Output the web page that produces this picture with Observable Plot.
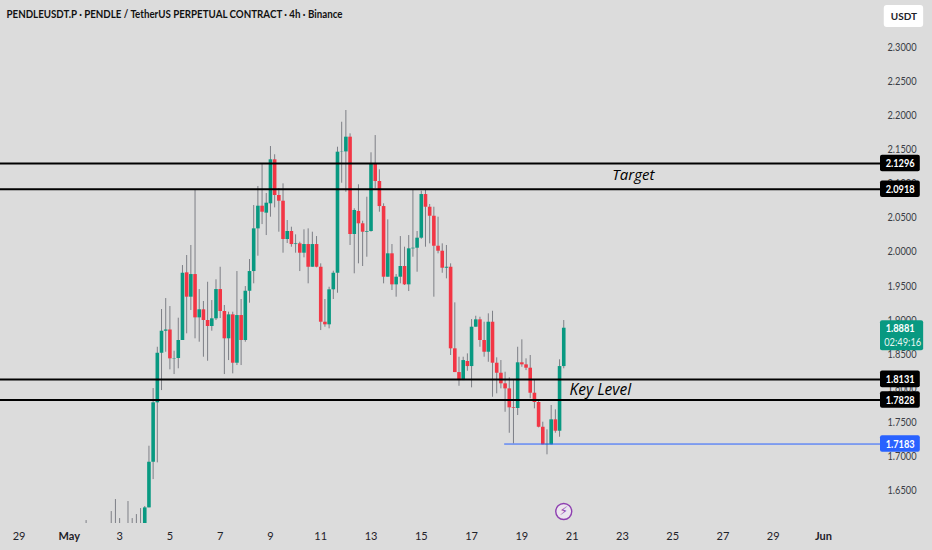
<!DOCTYPE html>
<html>
<head>
<meta charset="utf-8">
<script src="https://cdn.jsdelivr.net/npm/d3@7"></script>
<script src="https://cdn.jsdelivr.net/npm/@observablehq/plot@0.6"></script>
<style>
html,body{margin:0;padding:0;background:#dcdcdc;overflow:hidden}
svg{display:block}
</style>
</head>
<body>
<div id="chart"></div>
<script>
const title = "PENDLEUSDT.P · PENDLE / TetherUS PERPETUAL CONTRACT · 4h · Binance";
const opens = [1.585,1.584,1.586,1.585,1.584,1.585,1.586,1.588,1.587,1.585,1.586,1.587,1.588,1.590,
1.600,1.6247,1.6916,1.7787,1.8514,1.8837,1.8855,1.8432,1.8437,1.8701,1.9693,1.9336,1.9668,1.9033,1.9151,1.8994,
1.8906,1.9019,1.9448,1.9126,1.8726,1.9077,1.8368,1.9067,1.8701,1.9423,1.9712,2.0338,2.0670,2.0568,2.0705,2.1350,
2.0827,2.0743,2.0182,2.0299,2.0108,2.0118,1.9981,2.0108,1.9775,2.0108,1.9775,1.8969,1.8931,1.9444,1.9687,2.1462,
2.1466,2.1682,2.0255,2.0593,2.0412,2.0289,2.0299,2.1291,2.1032,2.0665,1.9629,1.9972,1.9517,1.9629,1.9786,1.9517,
2.0045,2.0054,2.0201,2.0841,2.0655,2.0523,2.0083,2.0010,1.9761,1.9775,1.8579,1.8231,1.8114,1.8393,1.8319,1.8896,
1.9004,1.8701,1.8529,1.8969,1.8368,1.8221,1.8066,1.7992,1.7714,1.7704,1.8374,1.8344,1.8295,1.7928,1.7792,1.7429,
1.7171,1.7171,1.7538,1.7371,1.8319];
const closes = [1.590,1.588,1.590,1.589,1.588,1.589,1.590,1.591,1.590,1.589,1.590,1.591,1.592,1.595,
1.6247,1.6916,1.7787,1.8514,1.8837,1.8855,1.8432,1.8437,1.8701,1.9687,1.9336,1.9668,1.9033,1.9151,1.8994,1.8906,
1.9019,1.9448,1.9126,1.8726,1.9077,1.8368,1.9067,1.8701,1.9423,1.9712,2.0338,2.0670,2.0582,2.0714,2.1350,2.0827,
2.0743,2.0182,2.0299,2.0108,2.0118,1.9981,2.0108,1.9775,2.0108,1.9775,1.8969,1.8931,1.9444,1.9687,2.1462,2.1466,
2.1682,2.0255,2.0607,2.0412,2.0289,2.0299,2.1291,2.1032,2.0665,1.9629,1.9972,1.9517,1.9629,1.9786,1.9517,2.0045,
2.0054,2.0201,2.0841,2.0655,2.0523,2.0083,2.0010,1.9761,1.9775,1.8579,1.8231,1.8114,1.8407,1.8319,1.8896,1.9004,
1.8701,1.8529,1.8969,1.8368,1.8221,1.8066,1.7992,1.7714,1.7704,1.8374,1.8344,1.8295,1.7928,1.7792,1.7429,1.7171,
1.7180,1.7538,1.7371,1.8319,1.8881];
const highs = [1.6061,1.592,1.592,1.592,1.592,1.592,1.6193,1.6369,1.6090,1.592,1.6340,1.6090,1.6149,1.6237,
1.6267,1.7151,1.7997,1.8602,1.9155,1.9316,1.9199,1.8544,1.9028,1.9800,1.9947,2.0094,2.0910,1.9448,1.9273,1.9555,
1.9287,1.9591,1.9775,1.9214,1.9116,1.9116,1.9712,1.9302,1.9492,1.9888,2.0680,2.0959,2.1291,2.0856,2.1545,2.1424,
2.0929,2.0998,2.0460,2.0362,2.0250,2.0142,2.0324,2.0338,2.0289,2.0225,1.9825,1.9302,1.9482,1.9717,2.1535,2.1901,
2.2073,2.1731,2.0632,2.0984,2.0450,2.0802,2.1453,2.1706,2.1204,2.0705,2.0470,2.0108,1.9668,2.0225,2.0069,2.0240,
2.0910,2.0299,2.0890,2.0910,2.0695,2.0655,2.0509,2.0118,2.0094,1.9825,1.9253,1.8456,1.8456,1.8505,1.9008,1.9057,
1.9042,1.8969,1.9092,1.9130,1.8447,1.8407,1.8236,1.8154,1.8125,1.8602,1.8711,1.8432,1.8481,1.8129,1.7831,1.7503,
1.7391,1.7748,1.7685,1.8418,1.8994];
const lows = [1.580,1.580,1.580,1.580,1.580,1.580,1.580,1.580,1.580,1.580,1.580,1.580,1.580,1.580,
1.595,1.6247,1.6662,1.6907,1.7967,1.8529,1.8271,1.8202,1.8286,1.8701,1.8799,1.9141,1.8726,1.8676,1.8456,1.8397,
1.8837,1.8994,1.9023,1.8202,1.8407,1.8212,1.8334,1.8334,1.8676,1.9248,1.9532,1.9937,2.0401,2.0240,2.0509,2.0646,
2.0289,1.9981,2.0123,2.0069,1.9981,1.9712,1.9913,1.9532,1.9775,1.9767,1.8847,1.8896,1.8872,1.9302,1.9394,2.1007,
2.0875,2.0094,1.9679,1.9825,1.9786,1.9922,2.0289,2.0925,2.0582,1.9532,1.9629,1.9434,1.9336,1.9532,1.9507,1.9419,
1.9922,1.9702,2.0185,2.0069,2.0118,1.9336,1.9972,1.9687,1.9605,1.8481,1.8231,1.8030,1.8114,1.8250,1.8007,1.8896,
1.8602,1.8456,1.8382,1.7869,1.7919,1.7992,1.7649,1.7341,1.7186,1.7601,1.8309,1.8260,1.7846,1.7699,1.7420,1.7171,
1.7025,1.7171,1.7341,1.7283,1.8286];
const candles = opens.map((open, i) => ({i, open, close: closes[i], high: highs[i], low: lows[i]}));

const blackLevels = [2.1296, 2.0918, 1.8131, 1.7828];
const blueLevel = 1.7183;
const currentPrice = 1.8881;
const countdown = "02:49:16";
const priceTicks = [1.65,1.70,1.75,1.80,1.85,1.90,1.95,2.00,2.05,2.10,2.15,2.20,2.25,2.30];
const dayTicks = [-16,8,20,32,44,56,68,80,92,104,116,128,140,152,164];
const dayLabels = ["29","3","5","7","9","11","13","15","17","19","21","23","25","27","29"];
const monthTicks = [-4,176];
const monthLabels = ["May","Jun"];

const font = "Lato, 'Noto Sans', sans-serif";
const italicFont = "'Open Sans', 'Noto Sans', sans-serif";
const green = "#089981", red = "#f23645", wick = "#7d7f86", ink = "#1f2229";
const up = d => d.close >= d.open;
const xEnd = 189.6, tagL = 189.6, tagR = 199.1, tagMid = 194.3;
const tagHalf = 0.0122;

const chart = Plot.plot({
  width: 932, height: 550,
  marginTop: 0, marginBottom: 27, marginLeft: 0, marginRight: 52,
  style: {background: "#dcdcdc", fontFamily: font},
  x: {type: "linear", domain: [-20.43, xEnd], axis: null},
  y: {type: "linear", domain: [1.6018, 2.3686], axis: null},
  marks: [
    Plot.axisY({anchor: "right", ticks: priceTicks, tickSize: 0, tickPadding: 7, tickFormat: d3.format(".4f"),
      label: null, fontSize: 11, color: "#3a3d45", className: "squeeze-price"}),
    Plot.axisX({anchor: "bottom", ticks: dayTicks, tickSize: 0, tickPadding: 9,
      tickFormat: d => dayLabels[dayTicks.indexOf(d)], label: null, fontSize: 11, color: ink}),
    Plot.axisX({anchor: "bottom", ticks: monthTicks, tickSize: 0, tickPadding: 9,
      tickFormat: d => monthLabels[monthTicks.indexOf(d)], label: null, fontSize: 11, fontWeight: 700, color: ink}),

    Plot.ruleX(candles, {x: "i", y1: "low", y2: "high", stroke: wick, strokeWidth: 1, clip: true}),
    Plot.ruleX(candles, {x: "i", y1: "open", y2: "close", stroke: d => up(d) ? green : red, strokeWidth: 3.6, clip: true}),

    Plot.ruleY(blackLevels, {x1: -20.43, x2: xEnd, stroke: "#000", strokeWidth: 2}),
    Plot.ruleY([blueLevel], {x1: 99.9, x2: xEnd, stroke: "#2962ff", strokeWidth: 1}),

    Plot.text(["Target"], {x: 125.6, y: 2.112, textAnchor: "start", fontStyle: "italic", fontSize: 15, fontFamily: italicFont, fill: "#000"}),
    Plot.text(["Key Level"], {x: 115.4, y: 1.7982, textAnchor: "start", fontStyle: "italic", fontSize: 15.5, fontFamily: italicFont, fill: "#000"}),

    Plot.rect(blackLevels, {x1: tagL, x2: tagR, y1: d => d - tagHalf, y2: d => d + tagHalf, fill: "#000", rx: 2}),
    Plot.text(blackLevels, {x: tagMid, y: d => d, text: d => d.toFixed(4), fill: "#fff", fontSize: 11, fontWeight: 700, className: "squeeze-price"}),
    Plot.rect([blueLevel], {x1: tagL, x2: tagR, y1: d => d - tagHalf, y2: d => d + tagHalf, fill: "#2962ff", rx: 2}),
    Plot.text([blueLevel], {x: tagMid, y: d => d, text: d => d.toFixed(4), fill: "#fff", fontSize: 11, fontWeight: 700, className: "squeeze-price"}),
    Plot.rect([currentPrice], {x1: tagL, x2: 199.9, y1: 1.855, y2: 1.899, fill: green, rx: 2}),
    Plot.text([currentPrice], {x: tagMid, y: d => d, text: d => d.toFixed(4), fill: "#fff", fontSize: 11, fontWeight: 700, className: "squeeze-price"}),
    Plot.text([countdown], {x: 194.9, y: 1.8673, fill: "#e6f5f1", fontSize: 11, className: "squeeze-clock"}),

    Plot.rect(["USDT"], {x1: 190.5, x2: 199.9, y1: 2.329, y2: 2.3613, fill: "#fff", rx: 3}),
    Plot.text(["USDT"], {x: 195.2, y: 2.3452, fill: ink, fontSize: 10, fontWeight: 700}),

    Plot.dot([114], {x: d => d, y: 1.6194, r: 8, fill: "#ebe5ee", stroke: "#8e3fb0", strokeWidth: 1.4}),
    Plot.text(["⚡"], {x: 114, y: 1.6194, fill: "#8e3fb0", fontSize: 12, fontFamily: "'DejaVu Sans', sans-serif"}),

    Plot.text([title], {frameAnchor: "top-left", dx: 6, dy: 10, fontSize: 11, fontWeight: 700, fill: "#111", lineAnchor: "top", className: "squeeze-title"})
  ]
});
const squeeze = (cls, len) => chart.querySelectorAll(`.${cls} text`).forEach(t => {
  t.setAttribute("textLength", len);
  t.setAttribute("lengthAdjust", "spacingAndGlyphs");
});
squeeze("squeeze-price", 29);
squeeze("squeeze-clock", 37);
squeeze("squeeze-title", 336);
document.getElementById("chart").append(chart);
</script>
</body>
</html>
